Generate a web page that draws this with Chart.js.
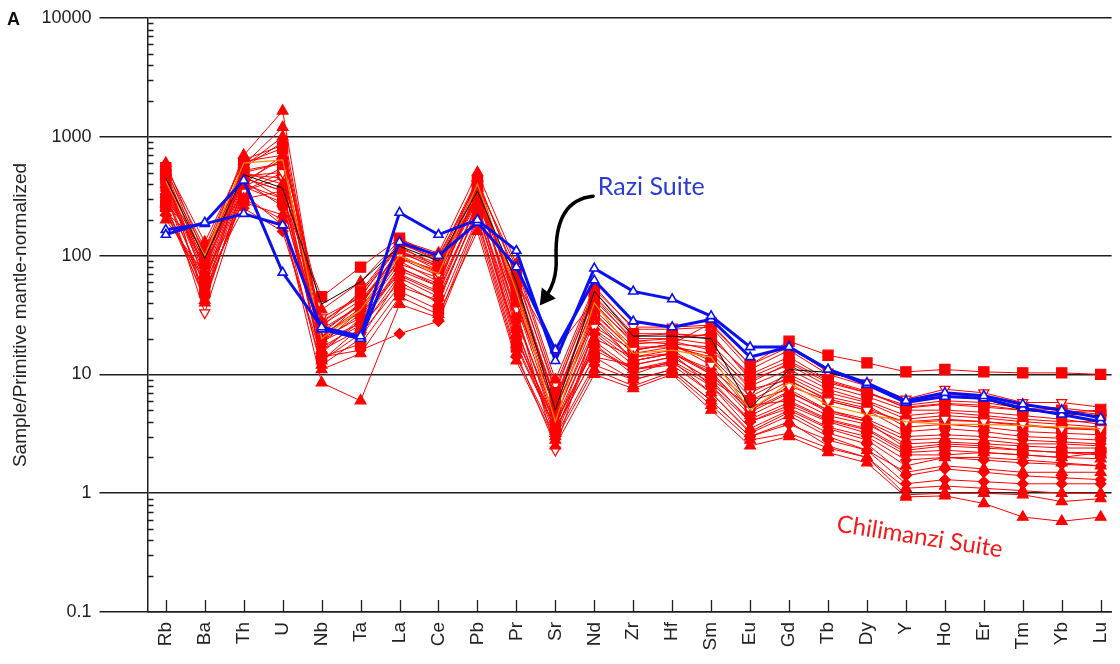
<!DOCTYPE html>
<html>
<head>
<meta charset="utf-8">
<script src="https://cdn.jsdelivr.net/npm/chart.js@4.4.1/dist/chart.umd.min.js"></script>
<style>
  html, body { margin: 0; padding: 0; background: #ffffff; }
  #wrap { width: 1120px; height: 664px; position: relative; }
</style>
</head>
<body>
<div id="wrap"><canvas id="spider" width="1120" height="664"></canvas></div>
<script>
// Element order along the x axis (primitive-mantle normalised spider diagram)
const elements = ['Rb','Ba','Th','U','Nb','Ta','La','Ce','Pb','Pr','Sr','Nd','Zr','Hf','Sm','Eu','Gd','Tb','Dy','Y','Ho','Er','Tm','Yb','Lu'];
const yTickValues = [0.1, 1, 10, 100, 1000, 10000];

// Razi Suite samples
const raziA = [150,190,430,72,25,21,230,150,200,110,13,78,50,43,31,17,17,11,8.5,6,7,6.6,5.6,5,4.3];
const raziB = [165,185,225,180,24,20,130,100,190,80,16,62,28,25,29,14,17,11,8.2,5.8,6.5,6.3,5.2,4.6,4.0];

// Reference profiles
const blackRef  = [450,95,480,370,39,60,120,90,350,60,5,50,21,21,20,5.2,11,10.4,8.5,6,6.5,6.2,5,4.7,4.5];
const orangeRef = [420,100,600,640,20,35,100,70,400,50,4,40,15,16,14,5,8.5,5.5,4.6,4,3.8,3.8,3.7,3.6,3.5];

// Chilimanzi Suite samples
const chil01 = [300,60,400,300,45,80,140,95,300,60,6,45,19,18,27,12,19,14.5,12.5,10.5,11,10.5,10.3,10.3,10];
const chil02 = [250,50,300,200,8.5,6,39,30,200,15,2.5,10,7.6,10,5,2.5,3,2.2,1.8,0.93,0.95,0.82,0.63,0.58,0.63];
const chil03 = [220,60,250,160,14,16,22,28,180,14,3,12,9,11,6,3,3.8,2.8,2.3,1.2,1.3,1.25,1.2,1.2,1.2];
const chil04 = [400,70,450,350,13,25,60,40,250,18,3.5,14,9,11,6,3,4,2.5,2,0.97,1.0,1.0,0.97,0.85,0.9];
const chil05 = [350,80,500,600,15,30,70,50,280,20,4,16,11,12,7,3.3,4.8,3.2,2.6,1.4,1.6,1.5,1.4,1.35,1.3];
const chil06 = [600,100,700,1650,20,40,110,75,450,40,5,30,13,15,8,3.5,5,3.5,2.8,1.7,2.0,2.0,1.9,1.8,1.7];
const chil07 = [450,45,550,900,18,35,90,60,350,30,4,22,12,14,9,4,5.5,4,3.2,2.1,2.1,2.2,2.1,2.0,2.2];
const chil08 = [500,40,400,700,16,28,80,55,380,25,3.2,20,14,16,10,4.5,6.5,4.5,3.8,2.6,2.7,2.6,2.5,2.4,2.4];
const chil09 = [350,33,350,500,22,40,100,70,300,35,2.3,25,16,18,12,5,8,6,5,4,4.2,4,3.8,3.5,3.5];
const chil10 = [550,90,600,800,25,50,130,90,420,70,7,50,22,22,20,10,14,9,7.2,5.2,5.6,5.3,5,4.8,5];
const chil11 = [280,110,500,400,28,45,120,80,320,55,6,40,18,19,16,8,11,7.5,6,4.5,4.8,4.5,4.2,4,4];
const chil12 = [420,75,480,450,30,45,125,100,400,80,8,52,25,25,26,12,17,10.5,8.5,6.2,7.5,7,5.8,5.8,5.3];
const chil13 = [380,65,420,260,20,30,95,75,330,60,16,42,20,20,22,9,12,8,6.5,5,5,4.8,4.5,4.2,3.8];
const chil14 = [230,120,330,180,12,20,65,45,230,22,3,18,10,13,7,3.2,4.5,3,2.3,1.5,1.7,1.6,1.5,1.5,1.5];
const chil15 = [330,55,380,550,17,26,75,55,260,28,4.5,24,14,15,11,6,7.5,5,4.2,3,3.1,3,2.8,2.7,2.6];
const chil16 = [470,85,560,1000,24,38,115,85,370,45,5.5,35,17,17,14,6.5,9.5,6.5,5.5,3.6,3.8,3.6,3.3,3.2,3.1];
const chil17 = [260,50,300,350,14,18,50,35,210,17,3.5,14,12,14,9,5.5,6,4.2,3.5,2.3,2.5,2.4,2.3,2.2,2.2];
const chil18 = [560,130,620,700,35,60,135,105,500,85,9,55,24,24,25,11,16,10,8,6,6.8,6.5,5.5,5.2,4.8];
const chil19 = [310,95,450,350,19,32,85,65,290,40,5,30,15,17,15,7,10,7,5.8,4.2,4.5,4.3,4,3.8,3.6];
const chil20 = [200,70,280,220,11,15,45,32,160,13,2.8,11,8,10.5,5.5,2.8,3.2,2.4,2.0,1.1,1.15,1.1,1.05,1.0,1.0];
const chil21 = [440,110,520,600,26,42,105,80,360,50,6.5,38,19,20,18,8.5,12.5,8.5,7,5.5,6,5.8,5.2,5,4.6];
const chil22 = [370,100,470,300,21,36,100,72,310,48,6,33,16,18,17,7.5,9,6,5,3.3,3.5,3.3,3,2.9,2.8];
const chil23 = [520,75,580,1200,22,33,95,68,420,38,4.2,28,13,15,10.5,4.8,7,5,4,2.8,2.9,2.8,2.6,2.6,2.5];
const chil24 = [240,45,350,450,13,22,55,42,240,20,3.8,17,11,12.5,8,4,5.2,3.6,3,1.9,2.0,1.9,1.8,1.75,1.7];
const chil25 = [330,85,420,650,19,27,78,58,330,32,3.6,23,13,15,10,5,7.2,4.8,4,2.4,2.6,2.5,2.3,2.2,2.1];
const chil26 = [480,60,470,500,23,38,110,82,390,42,5,32,16,18,13,6,8.8,6.2,5.2,3.9,4.1,4,3.7,3.5,3.4];
const chil27 = [270,42,380,280,16,24,68,48,270,24,3.3,19,11,13,8.5,4.2,5.8,4.1,3.4,2.2,2.3,2.2,2.1,2,1.95];
const chil28 = [520,115,640,850,27,48,125,95,440,65,7.5,46,21,22,21,9.5,13,8.8,7,5.3,5.7,5.5,5,4.7,4.4];

const chilimanzi = [chil01,chil02,chil03,chil04,chil05,chil06,chil07,chil08,chil09,chil10,chil11,chil12,chil13,chil14,
                    chil15,chil16,chil17,chil18,chil19,chil20,chil21,chil22,chil23,chil24,chil25,chil26,chil27,chil28];
const chilMarkers = ['sq','tri','dia','tri','dia','tri','dia','tri','inv','sq','tri','inv','circ','tri',
                     'dia','tri','sq','tri','inv','tri','sq','circ','tri','dia','tri','sq','tri','circ'];

const RED = '#ff0000';
const BLUE = '#0a10f0';
const AXIS = '#1e1e1e';
const FONT = '"Liberation Sans", Arial, sans-serif';

const toPoints = arr => arr.map((v, i) => ({ x: i, y: v }));

function markerOptions(kind) {
  switch (kind) {
    case 'tri':  return { pointStyle: 'triangle', rotation: 0,   pointRadius: 6.2, pointBackgroundColor: RED };
    case 'inv':  return { pointStyle: 'triangle', rotation: 180, pointRadius: 5.8, pointBackgroundColor: '#ffffff' };
    case 'sq':   return { pointStyle: 'rect',     rotation: 0,   pointRadius: 7.2, pointBackgroundColor: RED };
    case 'dia':  return { pointStyle: 'rectRot',  rotation: 0,   pointRadius: 5.2, pointBackgroundColor: RED };
    default:     return { pointStyle: 'circle',   rotation: 0,   pointRadius: 5.0, pointBackgroundColor: RED };
  }
}

const datasets = [];
chilimanzi.forEach((arr, k) => {
  const m = markerOptions(chilMarkers[k]);
  datasets.push(Object.assign({
    label: 'Chilimanzi ' + (k + 1),
    data: toPoints(arr),
    borderColor: RED,
    borderWidth: 1,
    pointBorderColor: RED,
    pointBorderWidth: 1.2,
    order: 5
  }, m));
});
datasets.push({
  label: 'Reference (black)', data: toPoints(blackRef), borderColor: '#000000', borderWidth: 1,
  pointRadius: 0, order: 4
});
datasets.push({
  label: 'Reference (orange)', data: toPoints(orangeRef), borderColor: '#ff8a00', borderWidth: 1.2,
  pointRadius: 0, order: 4
});
[raziA, raziB].forEach((arr, k) => {
  datasets.push({
    label: 'Razi ' + (k + 1), data: toPoints(arr), borderColor: BLUE, borderWidth: 3,
    pointStyle: 'triangle', pointRadius: 5.2, pointBorderColor: BLUE, pointBorderWidth: 1.6,
    pointBackgroundColor: '#ffffff', order: 1
  });
});

// Inner tick marks: minor log ticks on the y axis and element ticks on the x axis
const axisTicks = {
  id: 'axisTicks',
  beforeDatasetsDraw(chart) {
    const { ctx, chartArea, scales } = chart;
    const xs = scales.x, ys = scales.y;
    ctx.save();
    ctx.strokeStyle = AXIS;
    ctx.lineWidth = 1.3;
    ctx.beginPath();
    for (let e = -1; e < 4; e++) {
      for (let m = 2; m <= 9; m++) {
        const y = Math.round(ys.getPixelForValue(m * Math.pow(10, e))) + 0.5;
        ctx.moveTo(chartArea.left, y);
        ctx.lineTo(chartArea.left + 6, y);
      }
    }
    elements.forEach((_, i) => {
      const x = Math.round(xs.getPixelForValue(i)) + 0.5;
      ctx.moveTo(x, chartArea.bottom);
      ctx.lineTo(x, chartArea.bottom - 12);
    });
    ctx.stroke();
    ctx.restore();
  }
};

// Panel letter, suite labels and pointer arrow
const notes = {
  id: 'notes',
  afterDraw(chart) {
    const { ctx, scales } = chart;
    const px = v => scales.x.getPixelForValue(v);
    const py = v => scales.y.getPixelForValue(v);
    ctx.save();
    ctx.fillStyle = '#111111';
    ctx.font = 'bold 18px ' + FONT;
    ctx.textBaseline = 'alphabetic';
    ctx.fillText('A', 7, 25);

    ctx.fillStyle = '#2a3cd4';
    ctx.font = '25px Lato, "Open Sans", sans-serif';
    ctx.fillText('Razi Suite', px(11.09), py(321));

    // curved pointer
    const sx = px(10.97), sy = py(316);
    const tx = px(9.6), ty = py(38);
    ctx.strokeStyle = '#000000';
    ctx.fillStyle = '#000000';
    ctx.lineWidth = 3.5;
    ctx.lineCap = 'round';
    ctx.beginPath();
    ctx.moveTo(sx, sy);
    ctx.bezierCurveTo(sx - 31, sy + 3, sx - 38, sy + 31, sx - 37, sy + 61);
    ctx.bezierCurveTo(sx - 36, sy + 81, sx - 42, sy + 92, tx + 7, ty - 10);
    ctx.stroke();
    ctx.beginPath();
    ctx.moveTo(tx, ty);
    ctx.lineTo(tx + 2, ty - 18);
    ctx.lineTo(tx + 16, ty - 7);
    ctx.closePath();
    ctx.fill();

    ctx.translate(px(17.2), py(0.475));
    ctx.rotate(0.155);
    ctx.fillStyle = '#f21a1a';
    ctx.font = '24px Lato, "Open Sans", sans-serif';
    ctx.fillText('Chilimanzi Suite', 0, 0);
    ctx.restore();
  }
};

new Chart(document.getElementById('spider'), {
  type: 'line',
  data: { datasets },
  options: {
    responsive: false,
    animation: false,
    devicePixelRatio: 1,
    layout: { padding: { left: 0, right: 2, top: 18, bottom: 0 } },
    plugins: { legend: { display: false }, tooltip: { enabled: false } },
    elements: { line: { tension: 0, fill: false } },
    scales: {
      x: {
        type: 'linear',
        min: -0.47,
        max: 24.28,
        afterBuildTicks: s => { s.ticks = elements.map((_, i) => ({ value: i })); },
        afterFit: s => { s.height = 52; s.paddingLeft = 0; s.paddingRight = 0; },
        grid: { display: false, drawTicks: false },
        border: { display: true, color: AXIS, width: 1.5 },
        ticks: {
          autoSkip: false, minRotation: 90, maxRotation: 90, padding: 10,
          color: '#222222', font: { family: FONT, size: 19 },
          callback: v => elements[v] ?? ''
        }
      },
      y: {
        type: 'logarithmic',
        min: 0.1,
        max: 10000,
        afterBuildTicks: s => { s.ticks = yTickValues.map(v => ({ value: v, major: true })); },
        afterFit: s => { s.width = 147.5; s.paddingTop = 0; s.paddingBottom = 0; },
        grid: { color: AXIS, lineWidth: 1.5, drawTicks: true, tickLength: 48, tickColor: AXIS, tickWidth: 1.5 },
        border: { display: true, color: AXIS, width: 1.5 },
        ticks: {
          padding: 8, color: '#222222', font: { family: FONT, size: 18 },
          callback: v => String(v)
        },
        title: {
          display: true, text: 'Sample/Primitive mantle-normalized',
          color: '#222222', font: { family: FONT, size: 19 }, padding: { top: 9, bottom: 0 }
        }
      }
    }
  },
  plugins: [axisTicks, notes]
});
</script>
</body>
</html>
